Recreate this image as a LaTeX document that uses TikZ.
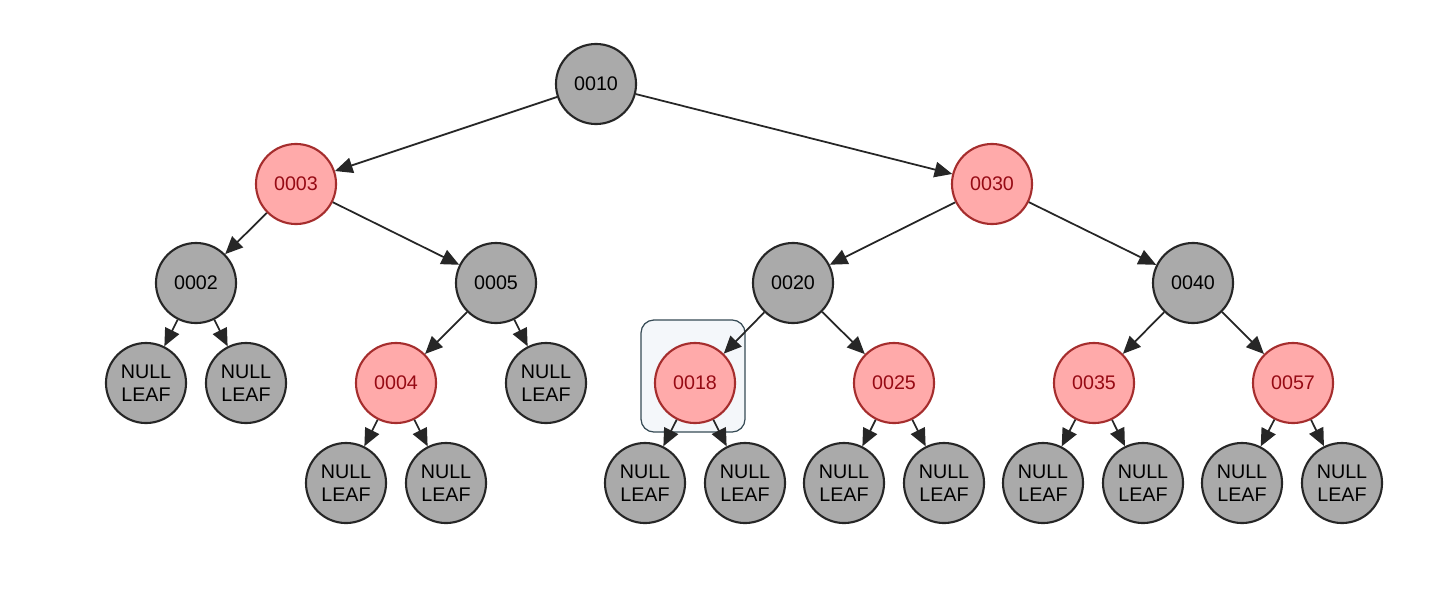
\documentclass[tikz,border=0pt]{standalone}
\usepackage{fontspec}
\setmainfont{Liberation Sans}
\usepackage{xcolor}
\usetikzlibrary{arrows.meta}
\definecolor{nodegray}{RGB}{170,170,170}
\definecolor{nodered}{RGB}{255,170,170}
\definecolor{edgered}{RGB}{165,45,45}
\definecolor{textred}{RGB}{150,10,20}
\definecolor{boxfill}{RGB}{244,247,250}
\definecolor{boxline}{RGB}{55,75,85}

\begin{document}
\begin{tikzpicture}[x=0.01cm, y=-0.01cm,
     blacknode/.style={circle, draw=black!85, fill=nodegray, line width=0.6pt,
       minimum size=0.8cm, inner sep=0pt, align=center,
       font=\fontsize{5.6}{6.6}\selectfont},
     rednode/.style={blacknode, draw=edgered, fill=nodered, text=textred},
     leafnode/.style={blacknode},
     link/.style={-{Triangle[length=5pt,width=4.4pt]}, line width=0.5pt, draw=black!85},
     pickbox/.style={draw=boxline, fill=boxfill, rounded corners=0.13cm,
       line width=0.35pt, minimum width=1.04cm, minimum height=1.12cm}]
     \useasboundingbox (0,0) rectangle (1443,606);
     % highlight behind 0018
     \node[pickbox] (pick) at (693,376) {};
     %
     \node[blacknode] (n10) at (596,84) {0010};
     \node[rednode] (n3) at (296,184) {0003};
     \node[rednode] (n30) at (992,184) {0030};
     %
     \node[blacknode] (n2) at (196,283) {0002};
     \node[blacknode] (n5) at (496,283) {0005};
     \node[blacknode] (n20) at (793,283) {0020};
     \node[blacknode] (n40) at (1193,283) {0040};
     %
     \node[leafnode] (l2a) at (146,383) {NULL\\LEAF};
     \node[leafnode] (l2b) at (246,383) {NULL\\LEAF};
     \node[rednode] (n4) at (396,383) {0004};
     \node[leafnode] (l5b) at (546,383) {NULL\\LEAF};
     \node[rednode] (n18) at (695,383) {0018};
     \node[rednode] (n25) at (894,383) {0025};
     \node[rednode] (n35) at (1094,383) {0035};
     \node[rednode] (n57) at (1293,383) {0057};
     %
     \node[leafnode] (l4a) at (346,483) {NULL\\LEAF};
     \node[leafnode] (l4b) at (446,483) {NULL\\LEAF};
     \node[leafnode] (l18a) at (645,483) {NULL\\LEAF};
     \node[leafnode] (l18b) at (745,483) {NULL\\LEAF};
     \node[leafnode] (l25a) at (844,483) {NULL\\LEAF};
     \node[leafnode] (l25b) at (944,483) {NULL\\LEAF};
     \node[leafnode] (l35a) at (1043,483) {NULL\\LEAF};
     \node[leafnode] (l35b) at (1143,483) {NULL\\LEAF};
     \node[leafnode] (l57a) at (1242,483) {NULL\\LEAF};
     \node[leafnode] (l57b) at (1342,483) {NULL\\LEAF};
     %
     \draw[link] (n10) -- (n3);
     \draw[link] (n10) -- (n30);
     \draw[link] (n3) -- (n2);
     \draw[link] (n3) -- (n5);
     \draw[link] (n30) -- (n20);
     \draw[link] (n30) -- (n40);
     %
     \draw[link] (n2) -- (l2a);
     \draw[link] (n2) -- (l2b);
     \draw[link] (n5) -- (n4);
     \draw[link] (n5) -- (l5b);
     \draw[link] (n20) -- (n18);
     \draw[link] (n20) -- (n25);
     \draw[link] (n40) -- (n35);
     \draw[link] (n40) -- (n57);
     %
     \draw[link] (n4) -- (l4a);
     \draw[link] (n4) -- (l4b);
     \draw[link] (n18) -- (l18a);
     \draw[link] (n18) -- (l18b);
     \draw[link] (n25) -- (l25a);
     \draw[link] (n25) -- (l25b);
     \draw[link] (n35) -- (l35a);
     \draw[link] (n35) -- (l35b);
     \draw[link] (n57) -- (l57a);
     \draw[link] (n57) -- (l57b);
   \end{tikzpicture}
\end{document}
